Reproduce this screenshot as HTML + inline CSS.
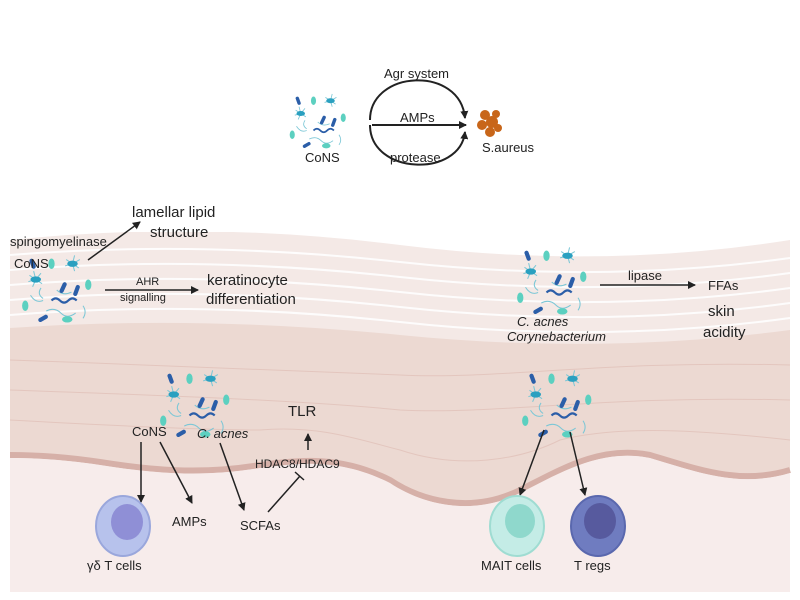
<!DOCTYPE html>
<html><head><meta charset="utf-8"><style>
html,body{margin:0;padding:0;background:#fff}
svg{display:block}
text{font-family:"Liberation Sans",sans-serif;fill:#222}
</style></head><body>
<svg width="800" height="600" viewBox="0 0 800 600" xmlns="http://www.w3.org/2000/svg">
<defs>
<marker id="a" markerWidth="8" markerHeight="8" refX="7" refY="4" orient="auto" markerUnits="userSpaceOnUse"><path d="M0,0 L8,4 L0,8 z" fill="#222"/></marker>
<g id="bac">
<g stroke="#7cc7d6" stroke-width="1" fill="none">
<path d="M-25,-10 l-6,-4 M-25,-10 l-7,2 M-25,-10 l-2,-8 M-25,-10 l5,-6 M-25,-10 l6,4 M-25,-10 l-3,7"/>
<path d="M10,-25 l-6,-4 M10,-25 l-7,2 M10,-25 l2,-8 M10,-25 l7,-4 M10,-25 l6,4 M10,-25 l2,7"/>
<path d="M-15,20 q8,-4 14,2 t14,0"/><path d="M-30,5 q5,8 12,5"/><path d="M20,15 q4,6 0,12"/>
<path d="M-5,0 q6,6 14,2"/><path d="M-20,-2 q-4,6 2,10"/>
</g>
<ellipse cx="-25" cy="-10" rx="5" ry="3" fill="#2aa0c0"/>
<ellipse cx="10" cy="-25" rx="5" ry="3" fill="#2aa0c0"/>
<rect x="-2" y="-8" width="4" height="11" rx="2" fill="#2b5ea8" transform="rotate(25)"/>
<rect x="12" y="-5" width="4" height="11" rx="2" fill="#2b5ea8" transform="rotate(20 14 0)"/>
<rect x="-30" y="-30" width="4" height="10" rx="2" fill="#2b5ea8" transform="rotate(-20 -28 -25)"/>
<rect x="-20" y="22" width="4" height="10" rx="2" fill="#2b5ea8" transform="rotate(60 -18 27)"/>
<ellipse cx="-10" cy="-25" rx="3" ry="5" fill="#5cd0c0"/>
<ellipse cx="25" cy="-5" rx="3" ry="5" fill="#5cd0c0"/>
<ellipse cx="-35" cy="15" rx="3" ry="5" fill="#5cd0c0"/>
<ellipse cx="5" cy="28" rx="5" ry="3" fill="#5cd0c0"/>
<path d="M-10,10 q4,-4 8,0 t8,0 t8,0" stroke="#2b5ea8" stroke-width="2" fill="none"/>
</g>
</defs>

<!-- skin -->
<rect x="10" y="232" width="780" height="360" fill="#f4e9e6"/>
<path d="M10,240 Q200,220 400,245 T790,240 L790,232 L10,232 Z" fill="#fff"/>
<g stroke="#fff" stroke-width="2" fill="none" opacity="0.9">
<path d="M10,255 Q200,240 400,262 T790,258"/><path d="M10,270 Q200,255 400,277 T790,273"/>
<path d="M10,285 Q200,270 400,292 T790,288"/><path d="M10,300 Q200,285 400,307 T790,303"/>
<path d="M10,315 Q200,300 400,322 T790,318"/>
</g>
<path d="M10,328 Q200,315 400,335 T790,330 L790,470 C740,485 700,470 650,455 C600,445 560,470 520,490 C470,515 420,500 390,480 C340,455 300,460 260,465 C200,475 150,470 100,462 C60,456 30,455 10,455 Z" fill="#ecd9d2"/>
<g stroke="#e3c6be" stroke-width="1" fill="none">
<path d="M10,420 C100,425 200,430 260,430 C320,425 360,440 400,450 C460,470 520,460 560,440 C620,425 700,430 790,440"/>
<path d="M10,390 C150,395 300,400 400,410 C500,415 600,395 790,400"/>
<path d="M10,360 C150,365 300,370 400,375 C500,380 600,360 790,365"/>
</g>
<path d="M10,455 C30,455 60,456 100,462 C150,470 200,475 260,465 C300,460 340,455 390,480 C420,500 470,515 520,490 C560,470 600,445 650,455 C700,470 740,485 790,470" stroke="#d6b0a8" stroke-width="6" fill="none"/>
<path d="M10,458 C30,458 60,459 100,465 C150,473 200,478 260,468 C300,463 340,458 390,483 C420,503 470,518 520,493 C560,473 600,448 650,458 C700,473 740,488 790,473 L790,592 L10,592 Z" fill="#f7eceb"/>

<!-- top diagram -->
<use href="#bac" transform="translate(322 122) scale(0.85)"/>
<text x="305" y="162" font-size="13">CoNS</text>
<path d="M370,120 C370,70 460,65 465,118" stroke="#222" stroke-width="2" fill="none" marker-end="url(#a)"/>
<path d="M370,125 C370,175 460,178 465,132" stroke="#222" stroke-width="2" fill="none" marker-end="url(#a)"/>
<line x1="372" y1="125" x2="466" y2="125" stroke="#222" stroke-width="2" marker-end="url(#a)"/>
<text x="384" y="78" font-size="13">Agr system</text>
<text x="400" y="122" font-size="13">AMPs</text>
<text x="390" y="162" font-size="13">protease</text>
<g fill="#c8661a"><circle cx="485" cy="115" r="5"/><circle cx="492" cy="122" r="6"/><circle cx="482" cy="125" r="5"/><circle cx="490" cy="132" r="5"/><circle cx="496" cy="114" r="4"/><circle cx="498" cy="128" r="4"/></g>
<text x="482" y="152" font-size="13">S.aureus</text>

<!-- left upper -->
<use href="#bac" transform="translate(62 290) scale(1.05)"/>
<text x="10" y="246" font-size="13">spingomyelinase</text>
<text x="14" y="268" font-size="13">CoNS</text>
<line x1="88" y1="260" x2="140" y2="222" stroke="#222" stroke-width="1.5" marker-end="url(#a)"/>
<text x="132" y="217" font-size="15">lamellar lipid</text>
<text x="150" y="237" font-size="15">structure</text>
<line x1="105" y1="290" x2="198" y2="290" stroke="#222" stroke-width="1.5" marker-end="url(#a)"/>
<text x="136" y="285" font-size="11">AHR</text>
<text x="120" y="301" font-size="11">signalling</text>
<text x="207" y="285" font-size="15">keratinocyte</text>
<text x="206" y="304" font-size="15">differentiation</text>

<!-- right upper -->
<use href="#bac" transform="translate(557 282) scale(1.05)"/>
<line x1="600" y1="285" x2="695" y2="285" stroke="#222" stroke-width="1.5" marker-end="url(#a)"/>
<text x="628" y="280" font-size="13">lipase</text>
<text x="708" y="290" font-size="13">FFAs</text>
<text x="708" y="316" font-size="15">skin</text>
<text x="703" y="337" font-size="15">acidity</text>
<text x="517" y="326" font-size="13" font-style="italic">C. acnes</text>
<text x="507" y="341" font-size="13" font-style="italic">Corynebacterium</text>

<!-- lower left -->
<use href="#bac" transform="translate(200 405) scale(1.05)"/>
<text x="132" y="436" font-size="13">CoNS</text>
<text x="197" y="438" font-size="13" font-style="italic">C. acnes</text>
<text x="288" y="416" font-size="15">TLR</text>
<line x1="308" y1="450" x2="308" y2="434" stroke="#222" stroke-width="1.5" marker-end="url(#a)"/>
<text x="255" y="468" font-size="12">HDAC8/HDAC9</text>
<line x1="268" y1="512" x2="300" y2="476" stroke="#222" stroke-width="1.5"/>
<line x1="295" y1="472" x2="304" y2="480" stroke="#222" stroke-width="1.5"/>
<line x1="141" y1="442" x2="141" y2="502" stroke="#222" stroke-width="1.5" marker-end="url(#a)"/>
<line x1="160" y1="442" x2="192" y2="503" stroke="#222" stroke-width="1.5" marker-end="url(#a)"/>
<line x1="220" y1="443" x2="244" y2="510" stroke="#222" stroke-width="1.5" marker-end="url(#a)"/>
<text x="172" y="526" font-size="13">AMPs</text>
<text x="240" y="530" font-size="13">SCFAs</text>
<ellipse cx="123" cy="526" rx="27" ry="30" fill="#b7c2ec" stroke="#9aa7dc" stroke-width="2"/>
<ellipse cx="127" cy="522" rx="16" ry="18" fill="#8f8fd6"/>
<text x="87" y="570" font-size="13">γδ T cells</text>

<!-- lower right -->
<use href="#bac" transform="translate(562 405) scale(1.05)"/>
<line x1="544" y1="430" x2="520" y2="495" stroke="#222" stroke-width="1.5" marker-end="url(#a)"/>
<line x1="570" y1="432" x2="585" y2="495" stroke="#222" stroke-width="1.5" marker-end="url(#a)"/>
<ellipse cx="517" cy="526" rx="27" ry="30" fill="#c4ece6" stroke="#9fdcd2" stroke-width="2"/>
<ellipse cx="520" cy="521" rx="15" ry="17" fill="#8fd8cc"/>
<ellipse cx="598" cy="526" rx="27" ry="30" fill="#6f7cc0" stroke="#5a68ae" stroke-width="2"/>
<ellipse cx="600" cy="521" rx="16" ry="18" fill="#575a9e"/>
<text x="481" y="570" font-size="13">MAIT cells</text>
<text x="574" y="570" font-size="13">T regs</text>
</svg>
</body></html>
